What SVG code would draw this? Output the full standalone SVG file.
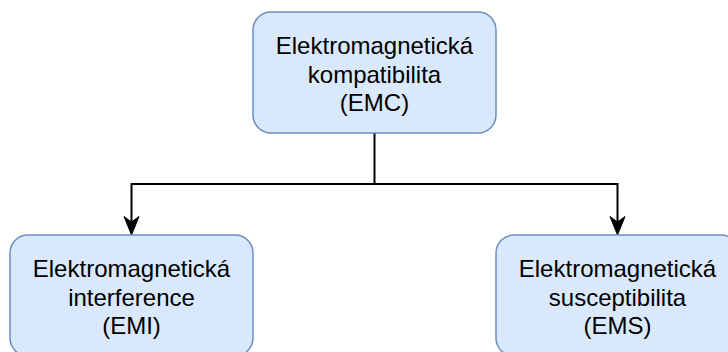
<svg xmlns="http://www.w3.org/2000/svg" width="728" height="352" viewBox="0 0 728 352">
  <style>
    .box { fill: #dae8fc; stroke: #6c8ebf; stroke-width: 1.5; }
    .lbl { font-family: "Liberation Sans", Arial, sans-serif; font-size: 24px; fill: #000; text-anchor: middle; }
    .edge { fill: none; stroke: #000; stroke-width: 2; }
    .head { fill: #000; stroke: #000; stroke-width: 1; stroke-linejoin: miter; }
  </style>
  <rect width="728" height="352" fill="#ffffff"/>

  <g id="connectors">
    <path class="edge" d="M374.5 133 V184 H131.5 V222"/>
    <path class="head" d="M131.5 235 L124 216.5 L131.5 222 L139 216.5 Z"/>
    <path class="edge" d="M374.5 184 H617.5 V222"/>
    <path class="head" d="M617.5 235 L610 216.5 L617.5 222 L625 216.5 Z"/>
  </g>

  <g id="emc">
    <rect class="box" x="253" y="12" width="243" height="121" rx="18" ry="18"/>
    <text class="lbl" x="374.5" y="54">Elektromagnetická</text>
    <text class="lbl" x="374.5" y="82.5">kompatibilita</text>
    <text class="lbl" x="374.5" y="111">(EMC)</text>
  </g>

  <g id="emi">
    <rect class="box" x="10" y="235" width="243" height="121" rx="18" ry="18"/>
    <text class="lbl" x="131.5" y="277">Elektromagnetická</text>
    <text class="lbl" x="131.5" y="305.5">interference</text>
    <text class="lbl" x="131.5" y="334">(EMI)</text>
  </g>

  <g id="ems">
    <rect class="box" x="496" y="235" width="243" height="121" rx="18" ry="18"/>
    <text class="lbl" x="617.5" y="277">Elektromagnetická</text>
    <text class="lbl" x="617.5" y="305.5">susceptibilita</text>
    <text class="lbl" x="617.5" y="334">(EMS)</text>
  </g>
</svg>
